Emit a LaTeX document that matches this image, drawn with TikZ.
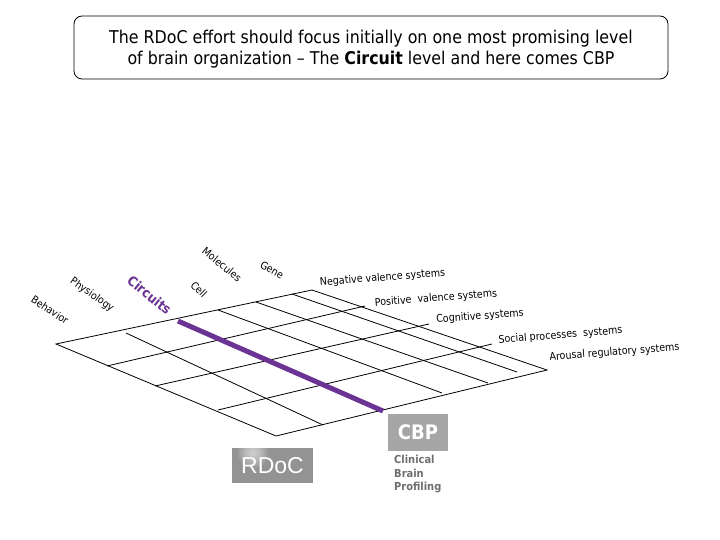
\documentclass[tikz,border=0pt]{standalone}
\usepackage{fontspec}
\setmainfont{DejaVu Sans Condensed}
\newfontfamily\rdocfont{Liberation Sans}
\definecolor{circuitpurple}{RGB}{107,51,147}
\definecolor{boxgray}{RGB}{166,166,166}
\definecolor{textgray}{RGB}{110,110,110}
\tikzset{
  gridline/.style={line width=0.8pt},
  levellabel/.style={inner sep=0pt,font=\fontsize{10.5}{12}\selectfont},
  systemlabel/.style={inner sep=0pt,rotate=4.5,font=\fontsize{10.6}{12}\selectfont}
}

\begin{document}
\begin{tikzpicture}[x=1pt,y=-1pt]

\useasboundingbox (0,0) rectangle (720,540);

\node [draw,rounded corners=8pt,line width=0.8pt,minimum width=594pt,minimum height=63pt,inner sep=0pt] (titlebox) at (371,47.5) {};
\node [align=center,inner sep=0pt,font=\fontsize{17.6}{21}\selectfont] (title) at (371,49.5)
  {The RDoC effort should focus initially on one most promising level\\of brain organization -- The \textbf{Circuit} level and here comes CBP};

\coordinate (left) at (56,344);
\coordinate (back) at (312,290);
\coordinate (front) at (276,436);
\coordinate (right) at (547,370);

% outline
\draw [gridline] (left) -- (back) -- (right) -- (front) -- cycle;

% systems
\coordinate (negA) at (107,366);
\coordinate (negB) at (365,306);
\coordinate (posA) at (155,386);
\coordinate (posB) at (429,324);
\coordinate (cogA) at (218,410);
\coordinate (cogB) at (492,344);
\draw [gridline] (negA) -- (negB);
\draw [gridline] (posA) -- (posB);
\draw [gridline] (cogA) -- (cogB);

% levels
\coordinate (behA) at (126,333);
\coordinate (behB) at (323,425);
\coordinate (cirA) at (178,321);
\coordinate (cirB) at (383,411);
\coordinate (celA) at (218,310);
\coordinate (celB) at (442,393);
\coordinate (molA) at (256,302);
\coordinate (molB) at (488,383);
\coordinate (genA) at (292,294);
\coordinate (genB) at (517,372);
\draw [gridline] (behA) -- (behB);
\draw [gridline] (celA) -- (celB);
\draw [gridline] (molA) -- (molB);
\draw [gridline] (genA) -- (genB);
\draw [line width=5pt,circuitpurple] (cirA) -- (cirB);

\node [levellabel,rotate=-33] (behavior) at (50,310) {Behavior};
\node [levellabel,rotate=-35] (physiology) at (92,295) {Physiology};
\node [inner sep=0pt,rotate=-39,text=circuitpurple,font=\fontsize{13.5}{18}\selectfont\bfseries] (circuits) at (149.5,295) {Circuits};
\node [levellabel,rotate=-45] (cell) at (199,289.5) {Cell};
\node [levellabel,rotate=-39] (molecules) at (222,264.5) {Molecules};
\node [levellabel,rotate=-30] (gene) at (272,270) {Gene};

\node [systemlabel] (negative) at (382.5,278) {Negative valence systems};
\node [systemlabel] (positive) at (436,298.5) {Positive\ \ valence systems};
\node [systemlabel] (cognitive) at (480,316.5) {Cognitive systems};
\node [systemlabel] (social) at (560.5,335.5) {Social processes\ \ systems};
\node [systemlabel] (arousal) at (614.5,352.5) {Arousal regulatory systems};

\node [fill=boxgray,text=white,minimum width=60pt,minimum height=37pt,inner sep=0pt,font=\fontsize{20}{22}\selectfont\bfseries] (cbp) at (418,432.5) {CBP};
\node [anchor=north west,inner sep=0pt,align=left,text=textgray,font=\fontsize{11}{13.6}\selectfont\bfseries] (profiling) at (394,455) {Clinical\\Brain\\Profiling};

\node [fill=gray!85,text=white,minimum width=81pt,minimum height=35pt,inner sep=0pt,font=\rdocfont\fontsize{23}{28}\selectfont,
  path picture={\foreach \r in {3,5,...,15} \fill [white,opacity=0.1] (path picture bounding box.north west) ++(21pt,-5pt) circle (\r pt);}] (rdoc) at (272.5,465.5) {RDoC};

\end{tikzpicture}
\end{document}
